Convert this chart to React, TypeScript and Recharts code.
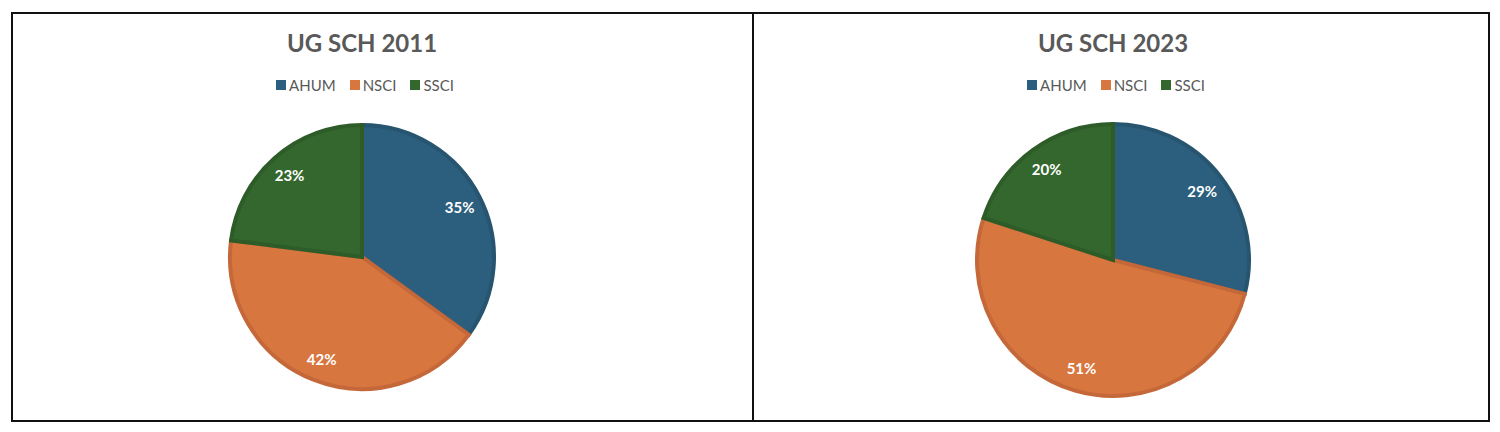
import { PieChart, Pie, Cell } from "recharts";

const categories = ["AHUM", "NSCI", "SSCI"];
const sch2011 = [35, 42, 23];
const sch2023 = [29, 51, 20];

const FILL = ["#2C5F7E", "#D8763F", "#34672D"];
const EDGE = ["#27546F", "#C56839", "#2E5C28"];
const TEXT = "#595959";
const FONT = "Lato, 'Open Sans', sans-serif";
const RAD = Math.PI / 180;

const renderLabel = (p: any) => {
  const r = p.innerRadius + (p.outerRadius - p.innerRadius) * 0.83;
  const x = p.cx + r * Math.cos(-p.midAngle * RAD);
  const y = p.cy + r * Math.sin(-p.midAngle * RAD);
  return (
    <text x={x} y={y} fill="#fff" fontSize={15} fontWeight={700} fontFamily={FONT}
      textAnchor="middle" dominantBaseline="central">
      {`${p.value}%`}
    </text>
  );
};

function LegendRow() {
  return (
    <div style={{ display: "flex", justifyContent: "center", gap: 14, fontFamily: FONT, fontSize: 15, color: TEXT }}>
      {categories.map((c, i) => (
        <span key={c} style={{ display: "flex", alignItems: "center", gap: 3 }}>
          <span style={{ width: 10, height: 10, background: FILL[i], display: "inline-block" }} />
          {c}
        </span>
      ))}
    </div>
  );
}

function Panel({ title, values, width, cx, cy, r, last }: {
  title: string; values: number[]; width: number; cx: number; cy: number; r: number; last?: boolean;
}) {
  const data = categories.map((name, i) => ({ name, value: values[i] }));
  return (
    <div style={{ position: "relative", width, height: 406, borderRight: last ? "none" : "2px solid #111" }}>
      <div style={{
        position: "absolute", left: cx - 200, width: 400, top: 14, textAlign: "center",
        fontFamily: FONT, fontWeight: 700, fontSize: 24, color: TEXT,
      }}>
        {title}
      </div>
      <div style={{ position: "absolute", left: cx - 197, width: 400, top: 62 }}>
        <LegendRow />
      </div>
      <PieChart width={width} height={406} margin={{ top: 0, right: 0, bottom: 0, left: 0 }}>
        <Pie
          data={data}
          dataKey="value"
          nameKey="name"
          cx={cx}
          cy={cy}
          outerRadius={r}
          startAngle={90}
          endAngle={-270}
          label={renderLabel}
          labelLine={false}
          isAnimationActive={false}
        >
          {data.map((d, i) => (
            <Cell key={d.name} fill={FILL[i]} stroke={EDGE[i]} strokeWidth={4} />
          ))}
        </Pie>
      </PieChart>
    </div>
  );
}

export default function App() {
  return (
    <div style={{ marginLeft: 3, marginTop: 4, width: 1475, border: "2px solid #111", display: "flex", background: "#fff" }}>
      <Panel title="UG SCH 2011" values={sch2011} width={739} cx={349} cy={243} r={132} />
      <Panel title="UG SCH 2023" values={sch2023} width={734} cx={359} cy={246} r={136} last />
    </div>
  );
}
